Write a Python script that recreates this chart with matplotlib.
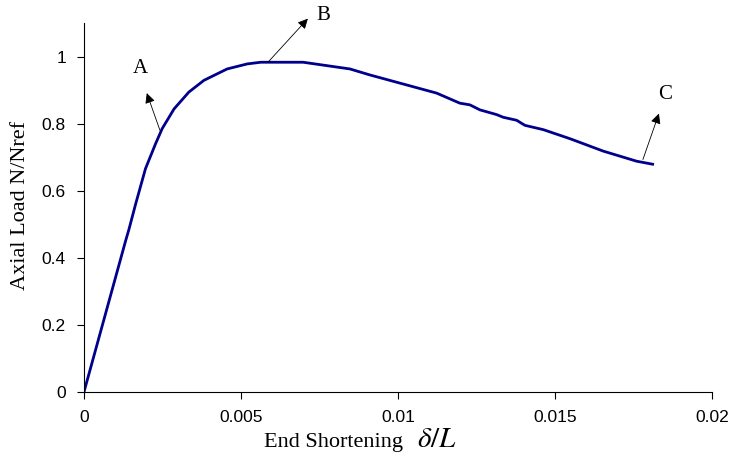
import matplotlib
matplotlib.use("Agg")
import matplotlib.pyplot as plt

# End shortening (delta/L) and normalised axial load N/Nref
shortening = [0.0, 0.00133, 0.00143, 0.00165, 0.00196, 0.00228, 0.00249, 0.00287,
              0.00334, 0.00382, 0.00456, 0.00520, 0.00563, 0.00637, 0.00698,
              0.00847, 0.00911, 0.01123, 0.01197, 0.01229, 0.01261, 0.01314,
              0.01335, 0.01378, 0.01404, 0.01463, 0.01548, 0.01654, 0.01760,
              0.01811]
load = [0.0, 0.452, 0.484, 0.562, 0.666, 0.740, 0.785, 0.844,
        0.894, 0.929, 0.963, 0.978, 0.983, 0.983, 0.983,
        0.963, 0.945, 0.891, 0.861, 0.856, 0.841, 0.827,
        0.819, 0.810, 0.795, 0.782, 0.755, 0.718, 0.688,
        0.679]

x_ticks = [0, 0.005, 0.01, 0.015, 0.02]
x_tick_labels = ["0", "0.005", "0.01", "0.015", "0.02"]
y_ticks = [0, 0.2, 0.4, 0.6, 0.8, 1.0]
y_tick_labels = ["0", "0.2", "0.4", "0.6", "0.8", "1"]

# annotations: label, point on curve, arrow tip, label position
ann_labels = ["A", "B", "C"]
ann_points = [(0.00242, 0.780), (0.00586, 0.983), (0.01780, 0.693)]
ann_tips = [(0.00200, 0.891), (0.00713, 1.113), (0.01831, 0.830)]
ann_text = [(0.00180, 0.963), (0.00761, 1.122), (0.01850, 0.887)]

plt.rcParams["mathtext.fontset"] = "stix"
fig = plt.figure(figsize=(7.34, 4.57), dpi=100)
ax = fig.add_axes([0.1144, 0.1422, 0.8556, 0.8075])
ax.plot(shortening, load, color="#00008C", lw=2.0, solid_joinstyle="round")

ax.set_xlim(0, 0.02)
ax.set_ylim(0, 1.1)
ax.set_xticks(x_ticks)
ax.set_xticklabels(x_tick_labels, family="Liberation Sans", fontsize=12.5)
ax.set_yticks(y_ticks)
ax.set_yticklabels(y_tick_labels, family="Liberation Sans", fontsize=12.5)
ax.tick_params(direction="out", length=5, width=0.8, pad=8)
for s in ["top", "right"]:
    ax.spines[s].set_visible(False)
for s in ["left", "bottom"]:
    ax.spines[s].set_linewidth(0.8)

fig.text(21 / 734, 0.5 * (0.1422 + 0.9497) + 0.005, "Axial Load N/Nref",
         family="Liberation Serif", fontsize=16, rotation=90,
         ha="center", va="center")

for lab, p, tip, t in zip(ann_labels, ann_points, ann_tips, ann_text):
    ax.annotate("", xy=tip, xytext=p, xycoords="data",
                arrowprops=dict(arrowstyle="-|>", color="black", lw=0.6,
                                mutation_scale=15, shrinkA=0, shrinkB=0),
                annotation_clip=False)
    ax.text(t[0], t[1], lab, family="Liberation Serif", fontsize=15,
            ha="center", va="center", clip_on=False)

fig.text(333 / 734, 0.022, "End Shortening", family="Liberation Serif", fontsize=16,
         ha="center", va="baseline")
fig.text(417 / 734, 0.022, r"$\delta/L$", fontsize=21, ha="left", va="baseline")

fig.savefig("out.png", dpi=100)
